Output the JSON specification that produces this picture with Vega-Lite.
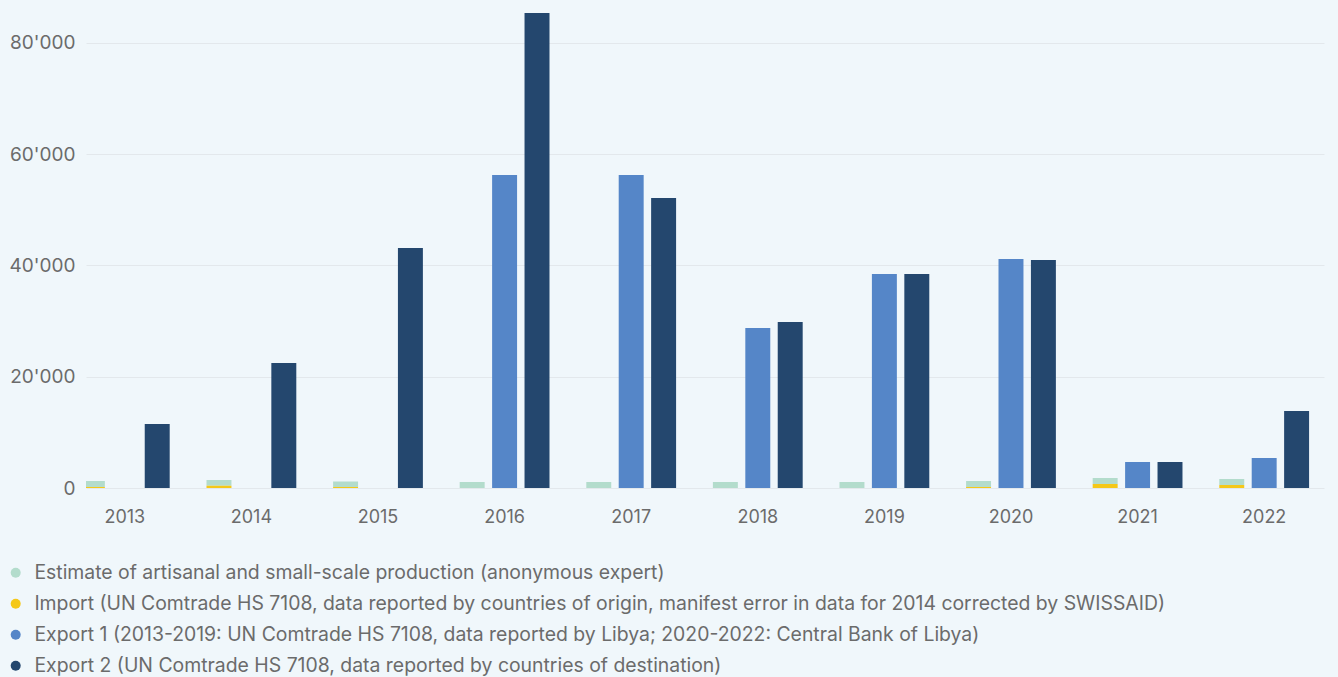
{
  "$schema": "https://vega.github.io/schema/vega-lite/v6.json",
  "width": 1238,
  "height": 484,
  "autosize": {"type": "none"},
  "padding": {"left": 86, "top": 4, "right": 14, "bottom": 189},
  "background": "#f0f7fb",
  "config": {
    "view": {"stroke": null},
    "font": "Inter"
  },
  "data": {
    "values": [
      {"year": "2013", "series": "Estimate", "slot": "A", "ord": 2, "value": 1080},
      {"year": "2013", "series": "Import", "slot": "A", "ord": 1, "value": 180},
      {"year": "2013", "series": "Export 2", "slot": "C", "ord": 1, "value": 11500},
      {"year": "2014", "series": "Estimate", "slot": "A", "ord": 2, "value": 1030},
      {"year": "2014", "series": "Import", "slot": "A", "ord": 1, "value": 410},
      {"year": "2014", "series": "Export 2", "slot": "C", "ord": 1, "value": 22470},
      {"year": "2015", "series": "Estimate", "slot": "A", "ord": 2, "value": 1000},
      {"year": "2015", "series": "Import", "slot": "A", "ord": 1, "value": 180},
      {"year": "2015", "series": "Export 2", "slot": "C", "ord": 1, "value": 43150},
      {"year": "2016", "series": "Estimate", "slot": "A", "ord": 2, "value": 1080},
      {"year": "2016", "series": "Export 1", "slot": "B", "ord": 1, "value": 56270},
      {"year": "2016", "series": "Export 2", "slot": "C", "ord": 1, "value": 85390},
      {"year": "2017", "series": "Estimate", "slot": "A", "ord": 2, "value": 1080},
      {"year": "2017", "series": "Export 1", "slot": "B", "ord": 1, "value": 56270},
      {"year": "2017", "series": "Export 2", "slot": "C", "ord": 1, "value": 52130},
      {"year": "2018", "series": "Estimate", "slot": "A", "ord": 2, "value": 1080},
      {"year": "2018", "series": "Export 1", "slot": "B", "ord": 1, "value": 28760},
      {"year": "2018", "series": "Export 2", "slot": "C", "ord": 1, "value": 29840},
      {"year": "2019", "series": "Estimate", "slot": "A", "ord": 2, "value": 1080},
      {"year": "2019", "series": "Export 1", "slot": "B", "ord": 1, "value": 38470},
      {"year": "2019", "series": "Export 2", "slot": "C", "ord": 1, "value": 38470},
      {"year": "2020", "series": "Estimate", "slot": "A", "ord": 2, "value": 1080},
      {"year": "2020", "series": "Import", "slot": "A", "ord": 1, "value": 180},
      {"year": "2020", "series": "Export 1", "slot": "B", "ord": 1, "value": 41170},
      {"year": "2020", "series": "Export 2", "slot": "C", "ord": 1, "value": 40990},
      {"year": "2021", "series": "Estimate", "slot": "A", "ord": 2, "value": 1080},
      {"year": "2021", "series": "Import", "slot": "A", "ord": 1, "value": 720},
      {"year": "2021", "series": "Export 1", "slot": "B", "ord": 1, "value": 4670},
      {"year": "2021", "series": "Export 2", "slot": "C", "ord": 1, "value": 4670},
      {"year": "2022", "series": "Estimate", "slot": "A", "ord": 2, "value": 1080},
      {"year": "2022", "series": "Import", "slot": "A", "ord": 1, "value": 540},
      {"year": "2022", "series": "Export 1", "slot": "B", "ord": 1, "value": 5390},
      {"year": "2022", "series": "Export 2", "slot": "C", "ord": 1, "value": 13840}
    ]
  },
  "mark": {"type": "bar", "clip": true},
  "encoding": {
    "x": {
      "field": "year", "type": "nominal",
      "scale": {"paddingInner": 0.221, "paddingOuter": 0},
      "axis": {
        "title": null, "labelAngle": 0, "ticks": false, "domain": false, "labelOffset": -10.5,
        "labelFontSize": 18, "labelColor": "#6b6b6b", "labelPadding": 20, "labelFont": "Inter"
      }
    },
    "xOffset": {
      "field": "slot", "type": "nominal",
      "scale": {"range": [-6.1, 83.7], "paddingInner": 0.23, "paddingOuter": 0}
    },
    "y": {
      "field": "value", "type": "quantitative", "stack": "zero",
      "scale": {"domain": [0, 87000], "nice": false},
      "axis": {
        "title": null, "values": [0, 20000, 40000, 60000, 80000],
        "labelExpr": "replace(format(datum.value, ','), ',', \"'\")",
        "ticks": false, "domain": false, "grid": true, "gridColor": "#e3e8ec", "gridWidth": 1,
        "labelFontSize": 19, "labelColor": "#6b6b6b", "labelPadding": 11, "labelFont": "Inter"
      }
    },
    "color": {
      "field": "series", "type": "nominal",
      "scale": {
        "domain": ["Estimate", "Import", "Export 1", "Export 2"],
        "range": ["#b3dccc", "#f5c818", "#5586c8", "#24476e"]
      },
      "legend": {
        "orient": "none", "legendX": -80, "legendY": 559, "direction": "vertical",
        "title": null, "symbolType": "circle", "symbolSize": 100, "symbolStrokeWidth": 0,
        "labelFontSize": 19.4, "labelColor": "#6b6b6b", "labelFont": "Inter", "rowPadding": 10, "padding": 0,
        "labelOffset": 9,
        "labelExpr": "datum.label == 'Estimate' ? 'Estimate of artisanal and small-scale production (anonymous expert)' : datum.label == 'Import' ? 'Import (UN Comtrade HS 7108, data reported by countries of origin, manifest error in data for 2014 corrected by SWISSAID)' : datum.label == 'Export 1' ? 'Export 1 (2013-2019: UN Comtrade HS 7108, data reported by Libya; 2020-2022: Central Bank of Libya)' : 'Export 2 (UN Comtrade HS 7108, data reported by countries of destination)'",
        "labelLimit": 1300
      }
    },
    "order": {"field": "ord", "type": "quantitative"}
  }
}
